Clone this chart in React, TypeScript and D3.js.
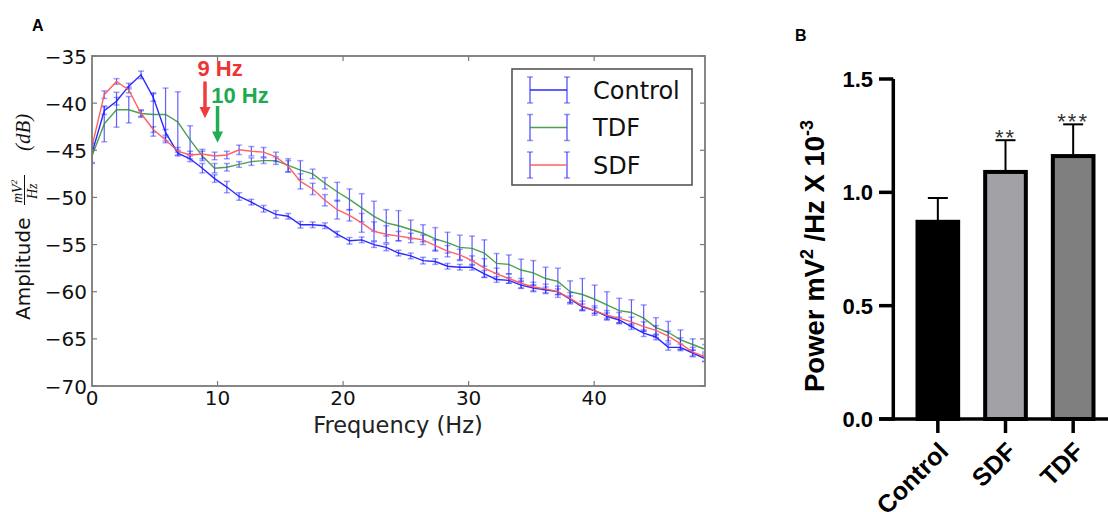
import React from 'react';
import * as d3 from 'd3';

// ---------- Panel A data ----------
const freqStep = 1000 / 1024;
const controlValues = [-45.3, -40.8, -39.8, -38.2, -37.0, -39.4, -43.1, -45.3, -45.9, -46.9, -48.0, -48.9, -49.9, -50.5, -51.2, -51.8, -52.0, -52.9, -52.9, -53.0, -53.9, -54.6, -54.5, -55.0, -55.3, -55.9, -56.2, -56.7, -56.8, -57.3, -57.4, -57.4, -58.1, -58.7, -58.8, -59.3, -59.6, -59.8, -60.0, -60.8, -61.6, -62.0, -62.6, -63.0, -63.7, -64.4, -64.8, -65.9, -65.9, -66.5, -67.1];
const sdfValues = [-44.6, -39.1, -37.7, -38.6, -41.1, -42.8, -43.9, -45.1, -45.5, -45.4, -45.6, -45.5, -44.95, -45.1, -45.2, -45.7, -46.7, -48.3, -49.1, -50.3, -51.3, -51.9, -52.7, -53.6, -53.9, -54.1, -54.3, -54.5, -55.1, -55.7, -56.1, -56.7, -57.5, -58.1, -58.6, -59.1, -59.5, -59.7, -60.0, -60.7, -61.5, -62.0, -62.5, -62.8, -63.2, -63.7, -64.1, -64.7, -65.5, -66.4, -66.9];
const tdfValues = [-45.6, -42.2, -40.7, -40.7, -41.1, -41.2, -41.2, -42.0, -43.9, -45.6, -46.9, -46.8, -46.5, -46.2, -46.1, -46.1, -46.6, -47.1, -47.5, -48.5, -49.4, -50.2, -51.1, -52.0, -52.7, -53.0, -53.4, -53.8, -54.4, -54.8, -55.3, -55.4, -55.9, -57.0, -57.1, -57.7, -58.0, -58.6, -58.9, -60.0, -60.3, -60.8, -61.4, -62.0, -62.2, -62.8, -63.8, -64.3, -65.1, -65.6, -66.1];
const controlErr = [1.0, 0.4, 0.4, 0.3, 0.4, 0.4, 0.3, 0.3, 0.3, 0.5, 0.4, 0.6, 0.4, 0.3, 0.35, 0.4, 0.3, 0.35, 0.3, 0.3, 0.3, 0.35, 0.3, 0.3, 0.35, 0.3, 0.3, 0.35, 0.3, 0.3, 0.3, 0.3, 0.35, 0.3, 0.3, 0.35, 0.3, 0.3, 0.3, 0.35, 0.3, 0.3, 0.35, 0.3, 0.3, 0.35, 0.3, 0.3, 0.35, 0.3, 0.3];
const sdfErr = [0.3, 0.4, 0.3, 0.3, 0.3, 0.3, 0.3, 0.4, 0.4, 0.5, 0.4, 0.4, 0.5, 0.5, 0.5, 0.5, 0.6, 0.8, 0.6, 0.6, 1.0, 0.6, 1.0, 1.0, 0.9, 0.5, 0.5, 0.5, 0.6, 0.6, 0.6, 0.5, 1.0, 0.6, 0.5, 0.5, 0.5, 0.5, 0.6, 0.6, 0.5, 0.5, 0.5, 0.6, 0.5, 0.5, 0.5, 0.5, 0.6, 0.5, 0.5];
const tdfErr = [0.8, 1.9, 1.85, 1.4, 0.4, 2.3, 2.8, 3.2, 1.5, 0.5, 0.5, 0.4, 0.3, 0.4, 0.3, 0.4, 0.7, 1.0, 0.5, 0.6, 1.0, 1.1, 1.5, 1.6, 1.4, 1.6, 1.0, 0.9, 1.2, 1.1, 1.3, 1.3, 1.4, 1.05, 1.0, 1.15, 1.3, 1.2, 1.4, 1.15, 1.7, 1.5, 1.4, 1.3, 1.35, 1.4, 1.05, 1.15, 1.05, 0.6, 0.5];
const xTicksA = [0, 10, 20, 30, 40];
const yTicksA = [-70, -65, -60, -55, -50, -45, -40, -35];
const legendNames = ['Control', 'TDF', 'SDF'];

// ---------- Panel B data ----------
const barCategories = ['Control', 'SDF', 'TDF'];
const barValues = [0.87, 1.09, 1.16];
const barErrors = [0.105, 0.14, 0.14];
const barStars = ['', '**', '***'];
const yTicksB = [0, 0.5, 1.0, 1.5];

const SANS = '"DejaVu Sans", sans-serif';
const ARIAL = '"Liberation Sans", Arial, sans-serif';
const SERIF = '"Liberation Serif", "DejaVu Serif", serif';

const fmtMinus = (v: number) => (v < 0 ? '\u2212' : '') + Math.abs(v);

export default function App() {
  // ----- Panel A scales -----
  const xA = d3.scaleLinear().domain([0, 50 * freqStep]).range([92, 705]);
  const yA = d3.scaleLinear().domain([-70, -35]).range([386, 56]);
  const freqs = controlValues.map((_, i) => i * freqStep);

  const series = [
    { name: 'Control', values: controlValues, err: controlErr, color: '#1f1fff', op: 0.95 },
    { name: 'TDF', values: tdfValues, err: tdfErr, color: '#2e8f2e', op: 0.85 },
    { name: 'SDF', values: sdfValues, err: sdfErr, color: '#ff5a5a', op: 0.95 },
  ];
  const line = d3
    .line<number>()
    .x((_, i) => xA(freqs[i]))
    .y((d) => yA(d));

  // ----- Panel B scales -----
  const yB = d3.scaleLinear().domain([0, 1.5]).range([419, 79]);
  const xB = d3.scaleBand<string>().domain(barCategories).range([904, 1107]).paddingInner(0.34).paddingOuter(0.17);
  const barFills = ['#000000', '#a2a2a6', '#7f7f7f'];

  const legendY = [90, 127.5, 165];

  return (
    <svg width={1108} height={512} style={{ position: 'absolute', left: 0, top: 0, background: '#fff' }}>
      {/* ================= Panel A ================= */}
      <text x={32} y={31} fontFamily={ARIAL} fontWeight="bold" fontSize={16}>A</text>

      <defs>
        <clipPath id="clipA">
          <rect x={92} y={56} width={613} height={330} />
        </clipPath>
      </defs>

      <g clipPath="url(#clipA)">
        {series.map((s) => (
          <g key={s.name}>
            {s.values.map((v, i) => {
              const x = xA(freqs[i]);
              const y1 = yA(v - s.err[i]);
              const y2 = yA(v + s.err[i]);
              return (
                <g key={i} stroke="#2a2aff">
                  <line x1={x} x2={x} y1={y1} y2={y2} strokeWidth={1.2} strokeOpacity={0.75} />
                  <line x1={x - 3} x2={x + 3} y1={y1} y2={y1} strokeWidth={1.5} strokeOpacity={0.45} />
                  <line x1={x - 3} x2={x + 3} y1={y2} y2={y2} strokeWidth={1.5} strokeOpacity={0.45} />
                </g>
              );
            })}
            <path d={line(s.values) || ''} fill="none" stroke={s.color} strokeOpacity={s.op} strokeWidth={1.4} />
          </g>
        ))}
      </g>

      {/* frame */}
      <rect x={92} y={56} width={613} height={330} fill="none" stroke="#7a7a7a" strokeWidth={1.8} />
      {xTicksA.map((t) => (
        <g key={'xt' + t}>
          {t > 0 && <line x1={xA(t)} x2={xA(t)} y1={386} y2={381} stroke="#7a7a7a" strokeWidth={1.2} />}
          {t > 0 && <line x1={xA(t)} x2={xA(t)} y1={56} y2={61} stroke="#7a7a7a" strokeWidth={1.2} />}
          <text x={xA(t)} y={405} textAnchor="middle" fontFamily={SANS} fontSize={20} fill="#111">{t}</text>
        </g>
      ))}
      {yTicksA.map((t) => (
        <g key={'yt' + t}>
          <line x1={92} x2={97} y1={yA(t)} y2={yA(t)} stroke="#7a7a7a" strokeWidth={1.2} />
          <line x1={705} x2={700} y1={yA(t)} y2={yA(t)} stroke="#7a7a7a" strokeWidth={1.2} />
          <text x={87} y={yA(t) + 7.5} textAnchor="end" fontFamily={SANS} fontSize={20} fill="#111">{fmtMinus(t)}</text>
        </g>
      ))}

      {/* axis labels */}
      <text x={398} y={433} textAnchor="middle" fontFamily={SANS} fontSize={22.5} fill="#222">Frequency (Hz)</text>
      <g transform="translate(30,320) rotate(-90)" fill="#111">
        <text x={0} y={0} fontFamily={SANS} fontSize={20}>Amplitude</text>
        <text x={117} y={-8.5} fontFamily={SERIF} fontStyle="italic" fontSize={14}>
          mV<tspan fontSize={9} dy={-5}>2</tspan>
        </text>
        <line x1={115} x2={145} y1={-5.5} y2={-5.5} stroke="#111" strokeWidth={1} />
        <text x={121} y={6.5} fontFamily={SERIF} fontStyle="italic" fontSize={14}>Hz</text>
        <text x={169} y={0} fontFamily={SERIF} fontStyle="italic" fontSize={21}>(dB)</text>
      </g>

      {/* annotations */}
      <text x={xA(8.4)} y={yA(-37.15)} fontFamily={ARIAL} fontWeight="bold" fontSize={22} fill="#f03434">9 Hz</text>
      <line x1={xA(9)} x2={xA(9)} y1={yA(-37.7)} y2={yA(-40.5)} stroke="#ee3d3d" strokeWidth={3.5} />
      <path
        d={`M${xA(9) - 5.5},${yA(-40.4)} L${xA(9) + 5.5},${yA(-40.4)} L${xA(9)},${yA(-41.6)} Z`}
        fill="#ee3d3d"
      />
      <text x={xA(9.5)} y={yA(-40.0)} fontFamily={ARIAL} fontWeight="bold" fontSize={22} fill="#1daa52">10 Hz</text>
      <line x1={xA(10)} x2={xA(10)} y1={yA(-40.3)} y2={yA(-43.1)} stroke="#22ad55" strokeWidth={3.5} />
      <path
        d={`M${xA(10) - 5.5},${yA(-43.0)} L${xA(10) + 5.5},${yA(-43.0)} L${xA(10)},${yA(-44.2)} Z`}
        fill="#22ad55"
      />

      {/* legend */}
      <rect x={512} y={69} width={180} height={116} fill="#fff" stroke="#555" strokeWidth={1.6} />
      {legendNames.map((n, i) => {
        const s = series.find((q) => q.name === n)!;
        const cy = legendY[i];
        return (
          <g key={n}>
            {[530, 567].map((cx) => (
              <g key={cx} stroke="#2a2aff">
                <line x1={cx} x2={cx} y1={cy - 13} y2={cy + 13} strokeWidth={1.4} strokeOpacity={0.75} />
                <line x1={cx - 3} x2={cx + 3} y1={cy - 13} y2={cy - 13} strokeWidth={1.5} strokeOpacity={0.5} />
                <line x1={cx - 3} x2={cx + 3} y1={cy + 13} y2={cy + 13} strokeWidth={1.5} strokeOpacity={0.5} />
              </g>
            ))}
            <line x1={530} x2={567} y1={cy} y2={cy} stroke={s.color} strokeOpacity={s.op} strokeWidth={1.6} />
            <text x={593} y={cy + 8.7} fontFamily={SANS} fontSize={24} fill="#111">{n}</text>
          </g>
        );
      })}

      {/* ================= Panel B ================= */}
      <text x={795} y={41} fontFamily={ARIAL} fontWeight="bold" fontSize={16}>B</text>

      {barCategories.map((c, i) => {
        const x0 = xB(c)!;
        const bw = xB.bandwidth();
        const cx = x0 + bw / 2;
        const yTop = yB(barValues[i]);
        const yErr = yB(barValues[i] + barErrors[i]);
        return (
          <g key={c}>
            <line x1={cx} x2={cx} y1={yTop} y2={yErr} stroke="#000" strokeWidth={2} />
            <line x1={cx - 10} x2={cx + 10} y1={yErr} y2={yErr} stroke="#000" strokeWidth={2} />
            <rect x={x0 + 2} y={yTop} width={bw - 4} height={yB(0) - yTop} fill={barFills[i]} stroke="#000" strokeWidth={4} />
            {barStars[i] && (
              <text x={cx} y={yErr + 5} textAnchor="middle" fontFamily={ARIAL} fontSize={22} letterSpacing={2} fill="#333">
                {barStars[i]}
              </text>
            )}
            <line x1={cx} x2={cx} y1={419} y2={433} stroke="#000" strokeWidth={3.5} />
            <text
              transform={`translate(${cx + 12},${453}) rotate(-45)`}
              textAnchor="end"
              fontFamily={ARIAL}
              fontWeight="bold"
              fontSize={25}
              fill="#000"
            >
              {c}
            </text>
          </g>
        );
      })}

      {/* axes B */}
      <line x1={893.3} x2={893.3} y1={yB(1.5)} y2={yB(0) + 1.75} stroke="#000" strokeWidth={3.5} />
      <line x1={879} x2={1108} y1={yB(0)} y2={yB(0)} stroke="#000" strokeWidth={3.5} />
      {yTicksB.map((t) => (
        <g key={'yb' + t}>
          <line x1={879} x2={893.3} y1={yB(t)} y2={yB(t)} stroke="#000" strokeWidth={3.5} />
          <text x={873} y={yB(t) + 8} textAnchor="end" fontFamily={ARIAL} fontWeight="bold" fontSize={22} fill="#000">
            {d3.format('.1f')(t)}
          </text>
        </g>
      ))}
      <text
        transform="translate(823.5,392) rotate(-90)"
        fontFamily={ARIAL}
        fontWeight="bold"
        fontSize={27.5}
        fill="#000"
      >
        Power mV<tspan fontSize={18} dy={-11}>2</tspan>
        <tspan dy={11}> /Hz X 10</tspan>
        <tspan fontSize={18} dy={-11}>-3</tspan>
      </text>
    </svg>
  );
}
